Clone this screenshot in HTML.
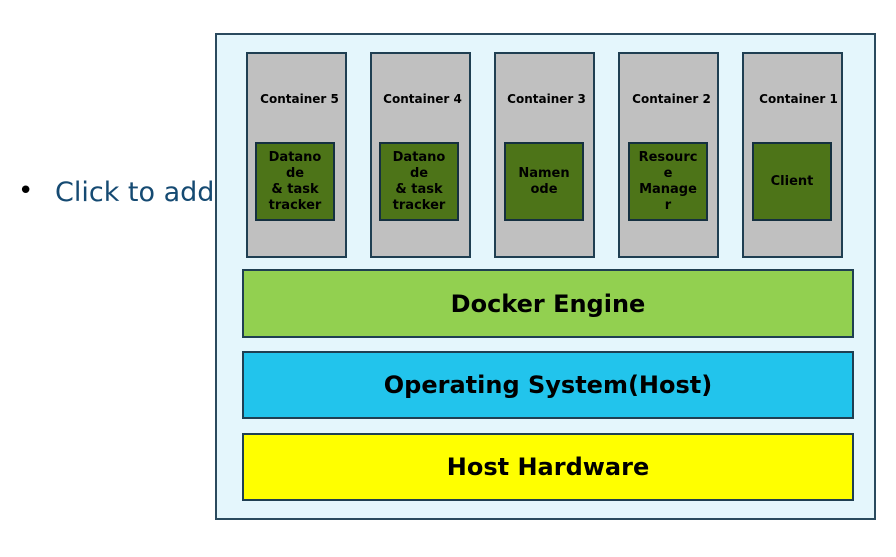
<!DOCTYPE html>
<html><head><meta charset="utf-8"><style>
body{margin:0;width:896px;height:557px;background:#fff;position:relative;overflow:hidden;font-family:"DejaVu Sans","Liberation Sans",sans-serif;}
div{position:absolute;box-sizing:border-box;}
.outer{left:215px;top:33px;width:661px;height:487px;background:#e4f6fc;border:2px solid #2a4a5e;}
.c{width:101px;height:206px;top:52px;background:#c0c0c0;border:2px solid #1f3f52;}
.cl{width:101px;top:92px;text-align:center;font-weight:bold;font-size:12px;color:#000;white-space:nowrap;}
.g{width:80px;height:79px;top:142px;background:#4d7418;border:2px solid #153040;display:flex;align-items:center;justify-content:center;text-align:center;font-weight:bold;font-size:13px;line-height:16px;color:#000;white-space:nowrap;}
.bar{left:242px;width:612px;border:2px solid #1f3f52;display:flex;align-items:center;justify-content:center;font-weight:bold;font-size:24px;color:#000;}
</style></head><body>
<div style="left:18px;top:176px;font-size:26px;color:#000">•</div>
<div style="left:55px;top:177px;font-size:27px;line-height:32px;color:#154a72;white-space:nowrap">Click to add</div>
<div class="outer"></div>

<div class="c" style="left:246px"></div><div class="cl" style="left:249px">Container 5</div>
<div class="g" style="left:255px">Datano<br>de<br>&amp; task<br>tracker</div>
<div class="c" style="left:370px"></div><div class="cl" style="left:372px">Container 4</div>
<div class="g" style="left:379px">Datano<br>de<br>&amp; task<br>tracker</div>
<div class="c" style="left:494px"></div><div class="cl" style="left:496px">Container 3</div>
<div class="g" style="left:504px">Namen<br>ode</div>
<div class="c" style="left:618px"></div><div class="cl" style="left:621px">Container 2</div>
<div class="g" style="left:628px">Resourc<br>e<br>Manage<br>r</div>
<div class="c" style="left:742px"></div><div class="cl" style="left:748px">Container 1</div>
<div class="g" style="left:752px">Client</div>

<div class="bar" style="top:269px;height:69px;background:#92d050">Docker Engine</div>
<div class="bar" style="top:351px;height:68px;background:#22c4ec">Operating System(Host)</div>
<div class="bar" style="top:433px;height:68px;background:#ffff00">Host Hardware</div>
</body></html>
